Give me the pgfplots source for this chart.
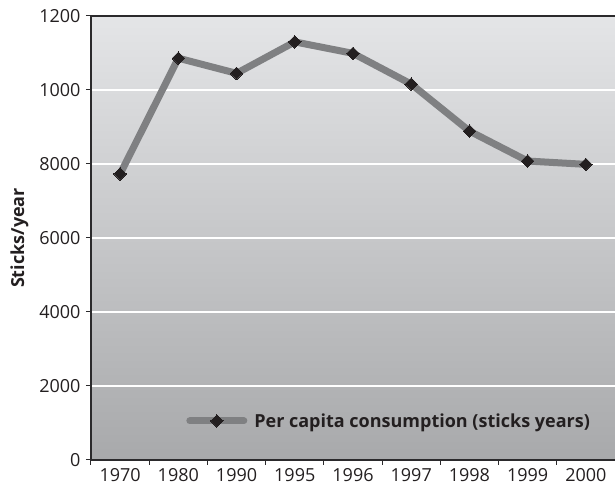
\documentclass[border=0pt]{standalone}
\usepackage{pgfplots}
\pgfplotsset{compat=1.18}
\usepackage{fontspec}
\setmainfont{Open Sans}
\definecolor{axcol}{HTML}{2B2A2C}
\definecolor{txtcol}{HTML}{231F20}
\definecolor{linecol}{HTML}{7F8082}
\definecolor{bgtop}{HTML}{E4E5E7}
\definecolor{bgbot}{HTML}{A8A9AB}
\begin{document}
\begin{tikzpicture}
\useasboundingbox (-91pt,-34pt) rectangle (524pt,460pt);
\begin{axis}[
  scale only axis,
  width=524pt, height=444pt,
  xmin=-0.5, xmax=8.5,
  ymin=0, ymax=12000,
  scaled y ticks=false,
  axis lines*=left,
  axis line style={axcol, line width=1.2pt},
  axis background/.style={top color=bgtop, bottom color=bgbot},
  xtick={-0.5,0.5,...,8.5},
  x tick label as interval,
  xticklabels={1970,1980,1990,1995,1996,1997,1998,1999,2000},
  ytick={0,2000,4000,6000,8000,10000,12000},
  yticklabels={0,2000,4000,6000,8000,1000,1200},
  tick align=outside,
  major tick length=5pt,
  tick style={axcol, line width=1pt},
  ymajorgrids,
  grid style={white, line width=2pt},
  tick label style={font=\fontsize{18}{20}\selectfont, text=txtcol},
  yticklabel style={xshift=-2pt},
  /pgf/number format/assume math mode=true,
  ylabel={Sticks/year},
  ylabel style={font=\fontsize{18}{20}\selectfont\bfseries, text=txtcol, yshift=4pt},
  legend style={at={(0.962,0.088)}, anchor=east, draw=none, fill=none,
    font=\fontsize{18}{20}\selectfont\bfseries, text=txtcol},
  legend image code/.code={\draw[mark repeat=2,mark phase=2,#1] plot coordinates {(0pt,0pt) (27pt,0pt) (54pt,0pt)};},
  clip=false,
]
\addplot[linecol, line width=7pt, line cap=round, line join=round,
  mark=square*, mark size=4.4pt, mark options={fill=txtcol, draw=txtcol, line width=0pt, rotate=45, solid}]
  coordinates {(0,7730) (1,10860) (2,10450) (3,11300) (4,10990) (5,10160) (6,8890) (7,8080) (8,7990)};
\addlegendentry{\hspace{5pt}Per capita consumption (sticks years)}
\draw[axcol, line width=1.2pt] (rel axis cs:0,1) -- (rel axis cs:1,1);
\end{axis}
\end{tikzpicture}
\end{document}
